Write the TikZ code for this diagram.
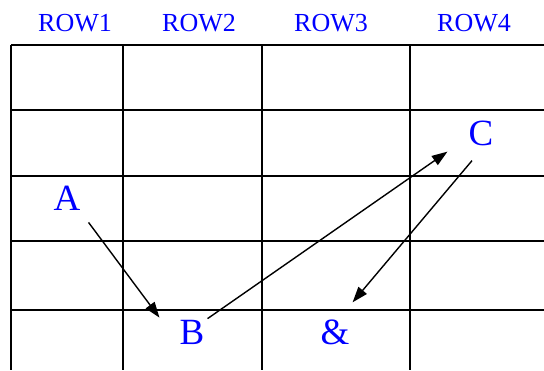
\documentclass[tikz,border=0pt]{standalone}
\usepackage{fontspec}
\setmainfont{Liberation Serif}
\usepackage{xcolor}
\usepackage{tikz}
\usetikzlibrary{calc,arrows.meta,positioning}
\definecolor{labc}{HTML}{0000FF}
\tikzset{
  ar/.style={-{Triangle[length=5.5mm,width=3.8mm]},line width=1.4pt,black},
  gridln/.style={line width=2pt,black},
  head/.style={labc,font=\fontsize{26}{28}\selectfont,inner sep=0pt},
  lett/.style={labc,font=\fontsize{37}{40}\selectfont,inner sep=0pt}
}
\begin{document}
\begin{tikzpicture}[x=1pt,y=-1pt]
\useasboundingbox (0,0) rectangle (544,370);
% table
\foreach \x in {11,123,262,410}{\draw[gridln] (\x,45)--(\x,370);}
\foreach \y in {45,110,176,241,310}{\draw[gridln] (11,\y)--(544,\y);}
% headers
\node[head] (r1) at (75,23) {ROW1};
\node[head] (r2) at (199,23) {ROW2};
\node[head] (r3) at (331,23) {ROW3};
\node[head] (r4) at (474,23) {ROW4};
% letters
\node[lett] (a) at (67,198) {A};
\node[lett] (b) at (192,332) {B};
\node[lett] (c) at (481,133) {C};
\node[lett] (amp) at (335,332) {\&};
\draw[ar] ([xshift=8pt,yshift=-12pt]a.south east)--([xshift=-20pt,yshift=2pt]b.north west);
\draw[ar] ([xshift=3pt,yshift=1pt]b.north east)--([xshift=-21pt,yshift=-6pt]c.south west);
\draw[ar] ([xshift=-9pt,yshift=-15pt]c.south)--([xshift=3pt,yshift=17pt]amp.north east);
\end{tikzpicture}
\end{document}
